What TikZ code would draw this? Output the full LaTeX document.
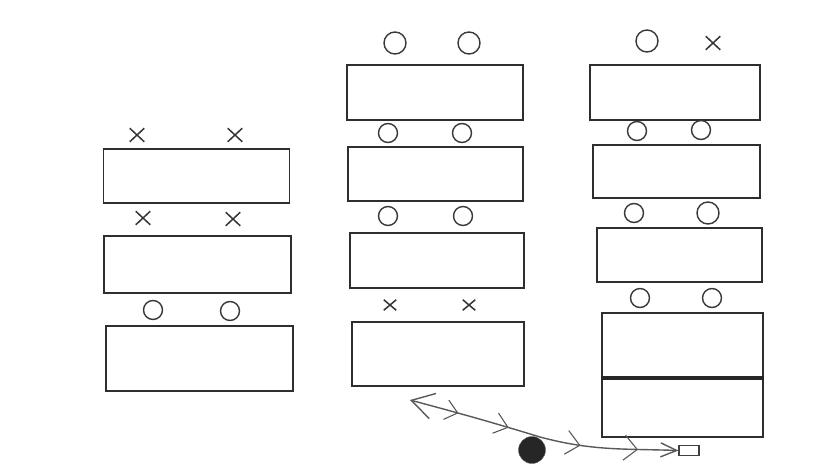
\documentclass[tikz,border=0pt]{standalone}
\usetikzlibrary{shapes.misc,arrows.meta,decorations.markings}
\begin{document}
\begin{tikzpicture}[x=1pt,y=-1pt,
  tablebox/.style={draw=black!82, line width=1.8pt, inner sep=0pt, fill=none},
  seat/.style={circle, draw=black!78, line width=1.4pt, minimum size=19pt, inner sep=0pt},
  bigseat/.style={seat, minimum size=22pt},
  xseat/.style={cross out, draw=black!80, line width=1.5pt, minimum width=13pt, minimum height=12pt, inner sep=0pt},
  smallx/.style={xseat, minimum width=11pt, minimum height=9pt},
  rope/.style={draw=black!65, line width=1.4pt},
  chev/.style={draw=black!65, line width=1.1pt, arrows=-}
]
\useasboundingbox[fill=white] (0,0) rectangle (830,472);

% left column
\node[tablebox, minimum width=186pt, minimum height=54pt] (l1) at (196.5,176) {};
\node[tablebox, minimum width=187pt, minimum height=57pt] (l2) at (197.5,264.5) {};
\node[tablebox, minimum width=187pt, minimum height=65pt] (l3) at (199.5,358.5) {};
\node[xseat] (l1a) at (137,135) {};
\node[xseat] (l1b) at (235,135) {};
\node[xseat] (l2a) at (143,218) {};
\node[xseat] (l2b) at (233,219) {};
\node[seat] (l3a) at (153,310) {};
\node[seat] (l3b) at (230,311) {};

% middle column
\node[tablebox, minimum width=176pt, minimum height=55pt] (m1) at (435,92.5) {};
\node[tablebox, minimum width=175pt, minimum height=54pt] (m2) at (435.5,174) {};
\node[tablebox, minimum width=174pt, minimum height=55pt] (m3) at (437,260.5) {};
\node[tablebox, minimum width=172pt, minimum height=64pt] (m4) at (438,354) {};
\node[bigseat] (m1a) at (395,43) {};
\node[bigseat] (m1b) at (469,43) {};
\node[seat] (m2a) at (388,133) {};
\node[seat] (m2b) at (462,133) {};
\node[seat] (m3a) at (388,216) {};
\node[seat] (m3b) at (463,216) {};
\node[smallx] (m4a) at (390,305) {};
\node[smallx] (m4b) at (469,305) {};

% right column
\node[tablebox, minimum width=170pt, minimum height=55pt] (r1) at (675,92.5) {};
\node[tablebox, minimum width=167pt, minimum height=53pt] (r2) at (676.5,171.5) {};
\node[tablebox, minimum width=165pt, minimum height=54pt] (r3) at (679.5,255) {};
\node[tablebox, minimum width=161pt, minimum height=124pt] (r4) at (682.5,375) {};
\draw[black!85, line width=3.4pt] ([yshift=-3pt]r4.west) -- ([yshift=-3pt]r4.east);
\node[bigseat] (r1a) at (647,41) {};
\node[xseat] (r1b) at (713,43) {};
\node[seat] (r2a) at (637,131) {};
\node[seat] (r2b) at (701,130) {};
\node[seat] (r3a) at (634,213) {};
\node[bigseat] (r3b) at (708,213) {};
\node[seat] (r4a) at (640,298) {};
\node[seat] (r4b) at (712,298) {};

% ball, tag and path
\node[circle, fill=black!85, draw=black!60, minimum size=27pt, inner sep=0pt] (ball) at (532,450) {};
\node[rectangle, draw=black!75, line width=1.2pt, minimum width=20pt, minimum height=10pt, inner sep=0pt] (tag) at (689,450.5) {};
\coordinate (tip) at (410,400);
\coordinate (mid) at (540,437);
\draw[rope, {Straight Barb[length=16pt,width=14pt]}-{Straight Barb[length=22pt,width=26pt]},
  postaction={decorate, decoration={markings,
    mark=at position 0.15 with {\draw[chev] (14pt,11pt) -- (0,0) -- (12pt,-14pt);},
    mark=at position 0.36 with {\draw[chev] (14pt,11pt) -- (0,0) -- (13pt,-13pt);},
    mark=at position 0.63 with {\draw[chev] (13pt,10pt) -- (0,0) -- (13pt,-11pt);},
    mark=at position 0.82 with {\draw[chev] (12pt,10pt) -- (0,0) -- (12pt,-10pt);}}}]
  (tag.west) to[out=178,in=-15] (mid) to[out=163,in=-15] (tip);
\end{tikzpicture}
\end{document}
